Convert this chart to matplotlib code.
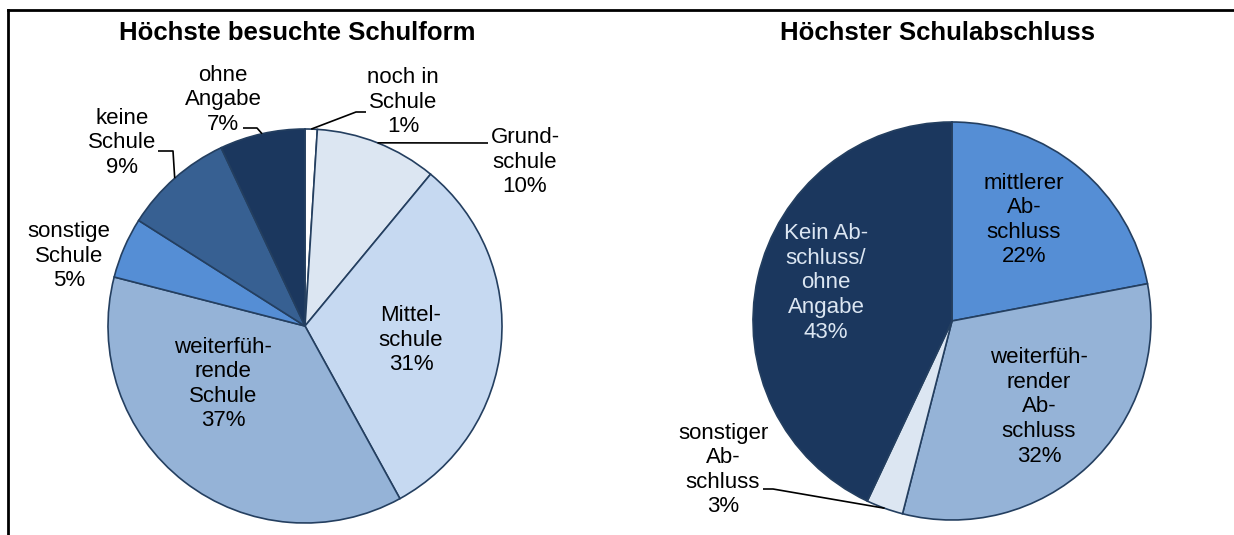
import numpy as np
import matplotlib
matplotlib.use("Agg")
import matplotlib.pyplot as plt

# --- data -----------------------------------------------------------------
schulform_labels = ["noch in\nSchule", "Grund-\nschule", "Mittel-\nschule",
                    "weiterfüh-\nrende\nSchule", "sonstige\nSchule",
                    "keine\nSchule", "ohne\nAngabe"]
schulform_values = [1, 10, 31, 37, 5, 9, 7]
schulform_colors = ["#FFFFFF", "#DCE6F2", "#C6D9F1", "#95B3D7", "#558ED5",
                    "#376092", "#1B375E"]

abschluss_labels = ["mittlerer\nAb-\nschluss", "weiterfüh-\nrender\nAb-\nschluss",
                    "sonstiger\nAb-\nschluss", "Kein Ab-\nschluss/\nohne\nAngabe"]
abschluss_values = [22, 32, 3, 43]
abschluss_colors = ["#558ED5", "#95B3D7", "#DCE6F2", "#1B375E"]

W, H = 1234, 535
FONT = ["Liberation Sans", "DejaVu Sans"]
EDGE = "#243F60"

fig = plt.figure(figsize=(W / 100, H / 100), dpi=100)
ax = fig.add_axes([0, 0, 1, 1])


def py(y):
    # pixel row (top=0) -> data y
    return H - y


def draw_pie(values, colors, cx, cy, r):
    wedges, _ = ax.pie(values, colors=colors, startangle=90, counterclock=False,
                       center=(cx, py(cy)), radius=r,
                       wedgeprops=dict(edgecolor=EDGE, linewidth=1.2))
    return wedges


def arc_point(w):
    ang = np.deg2rad((w.theta1 + w.theta2) / 2)
    cx, cy = w.center
    return cx + w.r * np.cos(ang), cy + w.r * np.sin(ang)


def label(x, y, s, color="black"):
    ax.text(x, py(y), s, ha="center", va="center", fontsize=16,
            family=FONT, color=color, linespacing=1.22)


def leader(w, pts):
    x0, y0 = arc_point(w)
    xs = [x0] + [p[0] for p in pts]
    ys = [y0] + [py(p[1]) for p in pts]
    ax.plot(xs, ys, color="black", lw=1.2, solid_capstyle="butt")


# left pie
lw_ = draw_pie(schulform_values, schulform_colors, 305, 326, 197)
label(403, 102, schulform_labels[0] + f"\n{schulform_values[0]}%")
label(525, 162, schulform_labels[1] + f"\n{schulform_values[1]}%")
label(411, 340, schulform_labels[2] + f"\n{schulform_values[2]}%")
label(223, 384, schulform_labels[3] + f"\n{schulform_values[3]}%")
label(69, 256, schulform_labels[4] + f"\n{schulform_values[4]}%")
label(122, 143, schulform_labels[5] + f"\n{schulform_values[5]}%")
label(223, 100, schulform_labels[6] + f"\n{schulform_values[6]}%")
leader(lw_[0], [(356, 112), (366, 112)])
leader(lw_[1], [(488, 143)])
leader(lw_[5], [(173, 151), (158, 151)])
leader(lw_[6], [(257, 128), (243, 128)])

# right pie
rw = draw_pie(abschluss_values, abschluss_colors, 952, 321, 199)
label(1024, 220, abschluss_labels[0] + f"\n{abschluss_values[0]}%")
label(1039, 407, abschluss_labels[1] + f"\n{abschluss_values[1]}%")
label(723, 470, abschluss_labels[2] + f"\n{abschluss_values[2]}%")
label(826, 283, abschluss_labels[3] + f"\n{abschluss_values[3]}%", color="#DCE6F2")
leader(rw[2], [(773, 489), (763, 489)])

# titles
ax.text(297, py(33), "Höchste besuchte Schulform", ha="center", va="center",
        fontsize=18.5, fontweight="bold", family=FONT)
ax.text(937, py(33), "Höchster Schulabschluss", ha="center", va="center",
        fontsize=18.5, fontweight="bold", family=FONT)

# frame (top and left only)
ax.plot([8, W], [py(10), py(10)], color="black", lw=2)
ax.plot([8, 8], [py(10), 0], color="black", lw=2)

ax.set_xlim(0, W)
ax.set_ylim(0, H)
ax.set_aspect("auto")
ax.axis("off")

fig.savefig("out.png", dpi=100)
